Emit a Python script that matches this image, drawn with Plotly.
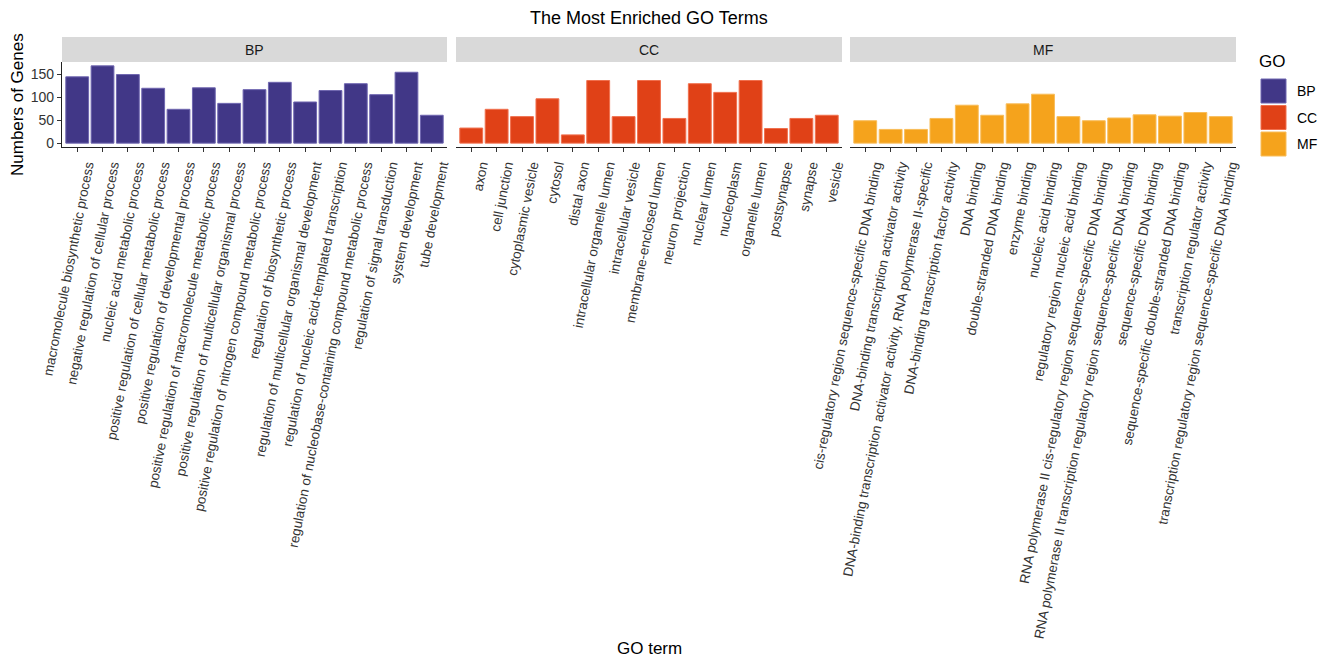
import plotly.graph_objects as go

W, H = 1325, 658

bp_terms = [
    "macromolecule biosynthetic process",
    "negative regulation of cellular process",
    "nucleic acid metabolic process",
    "positive regulation of cellular metabolic process",
    "positive regulation of developmental process",
    "positive regulation of macromolecule metabolic process",
    "positive regulation of multicellular organismal process",
    "positive regulation of nitrogen compound metabolic process",
    "regulation of biosynthetic process",
    "regulation of multicellular organismal development",
    "regulation of nucleic acid-templated transcription",
    "regulation of nucleobase-containing compound metabolic process",
    "regulation of signal transduction",
    "system development",
    "tube development",
]
bp_counts = [145, 169, 150, 120, 74, 121, 87, 117, 133, 90, 115, 130, 106, 155, 61]

cc_terms = [
    "axon", "cell junction", "cytoplasmic vesicle", "cytosol", "distal axon",
    "intracellular organelle lumen", "intracellular vesicle", "membrane-enclosed lumen",
    "neuron projection", "nuclear lumen", "nucleoplasm", "organelle lumen",
    "postsynapse", "synapse", "vesicle",
]
cc_counts = [33, 74, 58, 97, 18, 137, 58, 137, 54, 130, 111, 137, 32, 54, 61]

mf_terms = [
    "cis-regulatory region sequence-specific DNA binding",
    "DNA-binding transcription activator activity",
    "DNA-binding transcription activator activity, RNA polymerase II-specific",
    "DNA-binding transcription factor activity",
    "DNA binding",
    "double-stranded DNA binding",
    "enzyme binding",
    "nucleic acid binding",
    "regulatory region nucleic acid binding",
    "RNA polymerase II cis-regulatory region sequence-specific DNA binding",
    "RNA polymerase II transcription regulatory region sequence-specific DNA binding",
    "sequence-specific DNA binding",
    "sequence-specific double-stranded DNA binding",
    "transcription regulator activity",
    "transcription regulatory region sequence-specific DNA binding",
]
mf_counts = [49, 30, 30, 54, 83, 61, 86, 107, 58, 49, 55, 62, 59, 67, 58]

groups = ["BP", "CC", "MF"]
colors = {"BP": "#413787", "CC": "#E04117", "MF": "#F5A31C"}
edges = {"BP": "#6f66b0", "CC": "#f0704e", "MF": "#f8bd5a"}
yticks = [0, 50, 100, 150]

data = {"BP": (bp_terms, bp_counts), "CC": (cc_terms, cc_counts), "MF": (mf_terms, mf_counts)}

FONT = "Liberation Sans, Arial, sans-serif"

def px(x):
    return x / W

def py(y):
    return 1 - y / H

panel_px = [(62, 447), (456, 842), (850, 1236)]
plot_top, plot_bot = 62, 147
strip_top = 37

fig = go.Figure()
ymax = max(max(bp_counts), max(cc_counts), max(mf_counts))
yrange = [-0.05 * ymax, 1.05 * ymax]

for i, g in enumerate(groups):
    terms, counts = data[g]
    ax = "" if i == 0 else str(i + 1)
    fig.add_trace(go.Bar(
        x=terms, y=counts, name=g,
        marker=dict(color=colors[g], line=dict(color=edges[g], width=1)),
        width=0.9, showlegend=False,
        xaxis="x" + ax, yaxis="y" + ax,
    ))
    x0, x1 = panel_px[i]
    fig.layout["xaxis" + ax] = dict(
        domain=[px(x0), px(x1)], anchor="y" + ax, automargin=False,
        type="category", range=[-0.6, len(terms) - 0.4],
        tickangle=-79, ticks="outside", ticklen=4, tickwidth=1, tickcolor="#333",
        ticklabelshift=10,
        showline=True, linecolor="#222", linewidth=1.3,
        tickfont=dict(family=FONT, size=13.5, color="#333"),
        showgrid=False, zeroline=False, fixedrange=True,
    )
    fig.layout["yaxis" + ax] = dict(
        domain=[py(plot_bot), py(plot_top)], anchor="x" + ax, automargin=False,
        range=yrange, tickvals=yticks,
        showticklabels=(i == 0), ticks="outside" if i == 0 else "",
        ticklen=4, tickcolor="#333",
        showline=(i == 0), linecolor="#222", linewidth=1.3,
        tickfont=dict(family=FONT, size=14, color="#333"),
        showgrid=False, zeroline=False, fixedrange=True,
    )
    # strip
    fig.add_shape(type="rect", xref="paper", yref="paper",
                  x0=px(x0), x1=px(x1), y0=py(plot_top), y1=py(strip_top),
                  fillcolor="#D9D9D9", line=dict(width=0), layer="below")
    fig.add_annotation(text=g, xref="paper", yref="paper",
                       x=(px(x0) + px(x1)) / 2, y=(py(plot_top) + py(strip_top)) / 2,
                       showarrow=False, font=dict(family=FONT, size=14, color="#1a1a1a"),
                       xanchor="center", yanchor="middle")

# titles
fig.add_annotation(text="The Most Enriched GO Terms", xref="paper", yref="paper",
                   x=px(649), y=py(18), showarrow=False,
                   font=dict(family=FONT, size=18, color="black"),
                   xanchor="center", yanchor="middle")
fig.add_annotation(text="Numbers of Genes", xref="paper", yref="paper",
                   x=px(18), y=py(105), showarrow=False, textangle=-90,
                   font=dict(family=FONT, size=17, color="black"),
                   xanchor="center", yanchor="middle")
fig.add_annotation(text="GO term", xref="paper", yref="paper",
                   x=px(649), y=py(648), showarrow=False,
                   font=dict(family=FONT, size=17, color="black"),
                   xanchor="center", yanchor="middle")

# legend (manual, ggplot style)
fig.add_annotation(text="GO", xref="paper", yref="paper",
                   x=px(1257), y=py(61), showarrow=False,
                   font=dict(family=FONT, size=17, color="black"),
                   xanchor="left", yanchor="middle")
leg_rows = [(79, 103), (105.5, 129.5), (132, 156)]
for g, (t, b) in zip(groups, leg_rows):
    fig.add_shape(type="rect", xref="paper", yref="paper",
                  x0=px(1261), x1=px(1286), y0=py(b), y1=py(t),
                  fillcolor=colors[g], line=dict(color=edges[g], width=1))
    fig.add_annotation(text=g, xref="paper", yref="paper",
                       x=px(1295), y=py((t + b) / 2), showarrow=False,
                       font=dict(family=FONT, size=14, color="black"),
                       xanchor="left", yanchor="middle")

fig.update_layout(
    template="none",
    width=W, height=H,
    margin=dict(l=0, r=0, t=0, b=0, autoexpand=False),
    plot_bgcolor="white", paper_bgcolor="white",
    bargap=0.1,
)

fig.write_html("out.html", config={"displayModeBar": False})
